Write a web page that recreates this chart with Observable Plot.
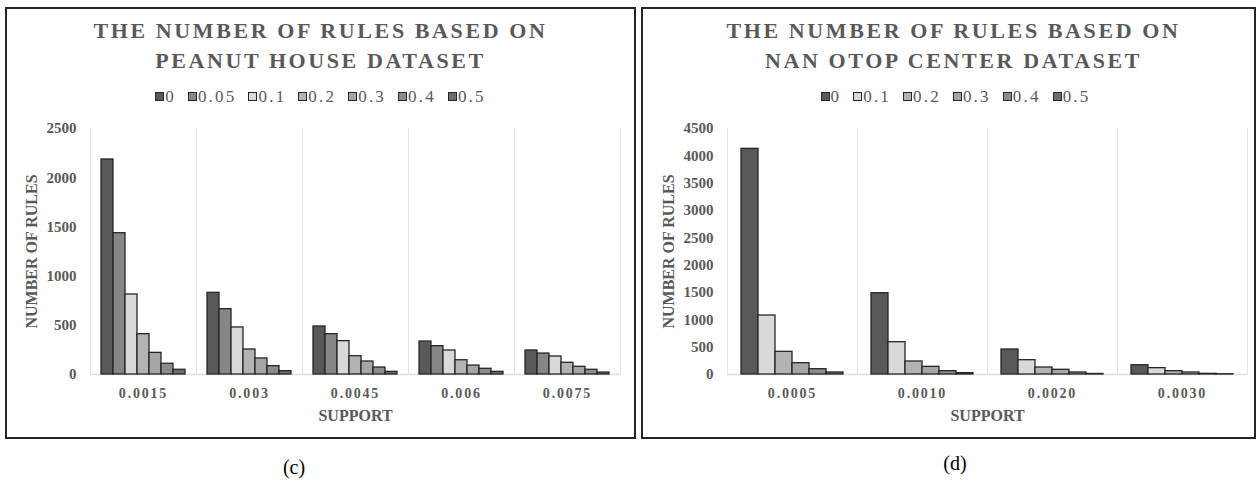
<!DOCTYPE html>
<html>
<head>
<meta charset="utf-8">
<script src="https://cdn.jsdelivr.net/npm/d3@7"></script>
<script src="https://cdn.jsdelivr.net/npm/@observablehq/plot@0.6"></script>
<style>
  html, body { margin: 0; padding: 0; background: #fff; }
  #page { position: relative; width: 1258px; height: 482px; font-family: "Liberation Serif", "DejaVu Serif", serif; overflow: hidden; }
  .panel { position: absolute; top: 7px; height: 432px; border: 2px solid #262626; box-sizing: border-box; background: #fff; }
  .title { position: absolute; left: 0; right: 0; top: 7px; text-align: center; font-weight: bold; font-size: 22px; line-height: 30px; color: #595959; letter-spacing: 2.6px; }
  .legend { position: absolute; left: 0; right: 0; top: 77px; text-align: center; font-size: 17px; line-height: 22px; color: #595959; letter-spacing: 2.2px; white-space: nowrap; }
  .legend span.item { display: inline-block; margin: 0 6px; }
  .legend span.sw { display: inline-block; width: 7px; height: 7px; border: 1px solid #262626; margin-right: 1px; vertical-align: 1px; }
  .chart { position: absolute; left: 0; top: 101px; }
  g[aria-label="fx-axis tick label"] text { letter-spacing: 1.8px; }
  .caption { position: absolute; font-size: 20px; line-height: 23px; color: #000; transform: translateX(-50%); }
</style>
</head>
<body>
<div id="page">
  <div class="panel" id="panelC" style="left:5px;width:631px;">
    <div class="title">THE NUMBER OF RULES BASED ON<br>PEANUT HOUSE DATASET</div>
    <div class="legend" id="legendC"></div>
    <div class="chart" id="chartC"></div>
  </div>
  <div class="panel" id="panelD" style="left:641px;width:615px;">
    <div class="title" style="padding-left:10px;">THE NUMBER OF RULES BASED ON<br>NAN OTOP CENTER DATASET</div>
    <div class="legend" id="legendD" style="padding-left:14px;"></div>
    <div class="chart" id="chartD"></div>
  </div>
  <div class="caption" style="left:294px;top:456px;">(c)</div>
  <div class="caption" style="left:955px;top:452px;">(d)</div>
</div>
<script>
// ---- Data: Peanut House dataset (c) ----
const supportC = ["0.0015", "0.003", "0.0045", "0.006", "0.0075"];
const thresholdsC = ["0", "0.05", "0.1", "0.2", "0.3", "0.4", "0.5"];
const c_0    = [2185, 830, 488, 335, 244];
const c_005  = [1436, 664, 410, 288, 213];
const c_01   = [813, 478, 339, 244, 183];
const c_02   = [410, 254, 186, 145, 119];
const c_03   = [220, 163, 132, 91, 78];
const c_04   = [109, 85, 71, 58, 48];
const c_05   = [48, 34, 27, 27, 20];
const seriesC = [c_0, c_005, c_01, c_02, c_03, c_04, c_05];
const colorsC = ["#595959", "#868686", "#d9d9d9", "#b3b3b3", "#a6a6a6", "#8c8c8c", "#6e6e6e"];
const yTicksC = [0, 500, 1000, 1500, 2000, 2500];

// ---- Data: Nan OTOP Center dataset (d) ----
const supportD = ["0.0005", "0.0010", "0.0020", "0.0030"];
const thresholdsD = ["0", "0.1", "0.2", "0.3", "0.4", "0.5"];
const d_0   = [4128, 1487, 457, 170];
const d_01  = [1079, 591, 262, 116];
const d_02  = [415, 238, 128, 61];
const d_03  = [207, 140, 86, 37];
const d_04  = [97, 61, 37, 12];
const d_05  = [37, 25, 10, 5];
const seriesD = [d_0, d_01, d_02, d_03, d_04, d_05];
const colorsD = ["#595959", "#d9d9d9", "#b3b3b3", "#a6a6a6", "#8c8c8c", "#6e6e6e"];
const yTicksD = [0, 500, 1000, 1500, 2000, 2500, 3000, 3500, 4000, 4500];

function buildRows(supports, thresholds, series) {
  const rows = [];
  supports.forEach((s, i) => thresholds.forEach((t, j) => rows.push({support: s, threshold: t, value: series[j][i]})));
  return rows;
}

function legend(el, thresholds, colors) {
  el.innerHTML = thresholds.map((t, i) =>
    `<span class="item"><span class="sw" style="background:${colors[i]}"></span>${t}</span>`).join("");
}

function chart(el, {supports, thresholds, series, colors, yTicks, yMax, width, marginRight, padOuter}) {
  const rows = buildRows(supports, thresholds, series);
  const plot = Plot.plot({
    width, height: 320,
    marginLeft: 83, marginRight, marginTop: 18, marginBottom: 56,
    style: {fontFamily: "Liberation Serif, Times New Roman, serif", color: "#595959", background: "transparent", overflow: "visible"},
    fx: {domain: supports, padding: 0},
    x: {domain: thresholds, paddingInner: 0, paddingOuter: padOuter, axis: null},
    y: {domain: [0, yMax]},
    color: {domain: thresholds, range: colors},
    marks: [
      Plot.frame({anchor: "left", stroke: "#e6e6e6", strokeWidth: 1}),
      Plot.frame({anchor: "right", stroke: "#e6e6e6", strokeWidth: 1}),
      Plot.ruleY([0], {stroke: "#e0e0e0", strokeWidth: 1.5}),
      Plot.barY(rows, {fx: "support", x: "threshold", y: "value", fill: "threshold", stroke: "#262626", strokeWidth: 1.3}),
      Plot.axisY({ticks: yTicks, tickSize: 0, tickPadding: 14, tickFormat: d => String(d), fontSize: 15, fontWeight: "bold", label: null}),
      Plot.axisY({ticks: [], tickSize: 0, label: "NUMBER OF RULES", labelAnchor: "center", labelOffset: 65, labelArrow: false, fontSize: 16, fontWeight: "bold"}),
      Plot.axisFx({anchor: "bottom", tickSize: 0, tickPadding: 14, fontSize: 14, fontWeight: "bold", label: null}),
      Plot.axisFx({anchor: "bottom", ticks: [], tickSize: 0, label: "SUPPORT", labelAnchor: "center", labelOffset: 46, labelArrow: false, fontSize: 16, fontWeight: "bold"})
    ]
  });
  el.appendChild(plot);
}

legend(document.getElementById("legendC"), thresholdsC, colorsC);
legend(document.getElementById("legendD"), thresholdsD, colorsD);

chart(document.getElementById("chartC"), {
  supports: supportC, thresholds: thresholdsC, series: seriesC, colors: colorsC,
  yTicks: yTicksC, yMax: 2500, width: 627, marginRight: 14, padOuter: 0.72
});
chart(document.getElementById("chartD"), {
  supports: supportD, thresholds: thresholdsD, series: seriesD, colors: colorsD,
  yTicks: yTicksD, yMax: 4500, width: 611, marginRight: 7, padOuter: 0.73
});
</script>
</body>
</html>
